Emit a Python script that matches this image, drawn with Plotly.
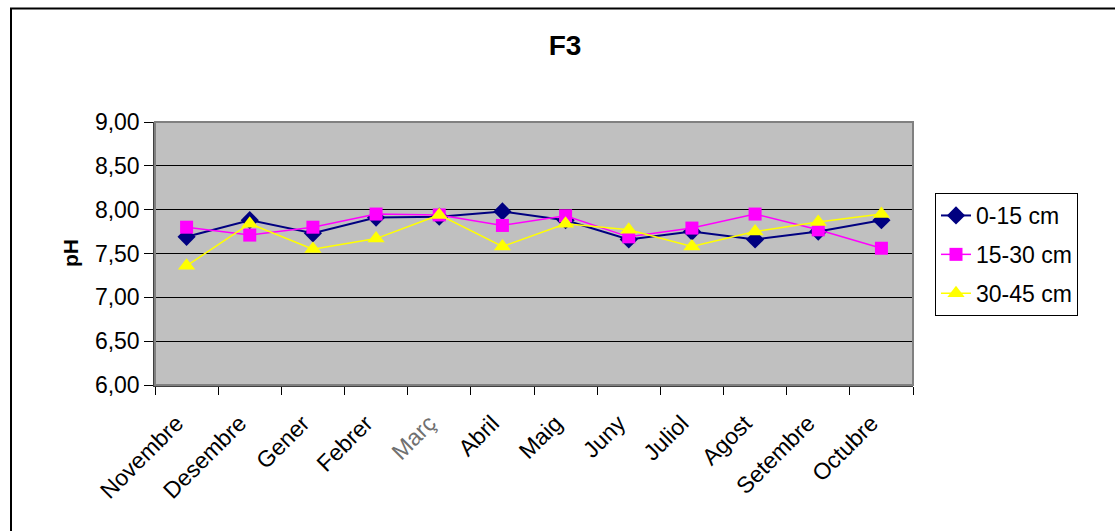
import plotly.graph_objects as go

months = ["Novembre", "Desembre", "Gener", "Febrer", "Març", "Abril",
          "Maig", "Juny", "Juliol", "Agost", "Setembre", "Octubre"]

ph_0_15 = [7.69, 7.88, 7.73, 7.91, 7.92, 7.98, 7.88, 7.66, 7.75, 7.66, 7.75, 7.88]
ph_15_30 = [7.80, 7.71, 7.80, 7.95, 7.94, 7.82, 7.93, 7.69, 7.79, 7.95, 7.77, 7.56]
ph_30_45 = [7.36, 7.84, 7.55, 7.67, 7.94, 7.58, 7.84, 7.77, 7.58, 7.75, 7.86, 7.95]

tick_text = [m if m != "Març" else "<span style='color:#707070'>Març</span>" for m in months]

font = "Arial, Liberation Sans, sans-serif"

fig = go.Figure()

fig.add_trace(go.Scatter(x=months, y=ph_0_15, mode="lines+markers", name="0-15 cm",
                         legendgroup="a",
                         line=dict(color="#000080", width=2),
                         marker=dict(symbol="diamond", size=14, color="#000080")))
fig.add_trace(go.Scatter(x=months, y=ph_15_30, mode="lines+markers", name="15-30 cm",
                         legendgroup="b",
                         line=dict(color="#FF00FF", width=1.5),
                         marker=dict(symbol="square", size=13, color="#FF00FF")))
fig.add_trace(go.Scatter(x=months, y=ph_30_45, mode="lines+markers", name="30-45 cm",
                         legendgroup="c",
                         line=dict(color="#FFFF00", width=1.5),
                         marker=dict(symbol="triangle-up", size=15, color="#FFFF00")))

fig.update_layout(
    width=1115, height=531,
    margin=dict(l=155, r=202, t=122, b=146),
    paper_bgcolor="white",
    plot_bgcolor="#C0C0C0",
    separators=",.",
    font=dict(family=font, size=23, color="black"),
    title=dict(text="<b>F3</b>", x=0.541, xref="paper", xanchor="center",
               y=1 - 45 / 531, yref="container", yanchor="middle",
               font=dict(size=28, family=font)),
    xaxis=dict(
        type="category", range=[-0.5, 11.5],
        tickvals=months, ticktext=tick_text, tickangle=-45,
        tickson="boundaries", ticks="outside", ticklen=8, tickcolor="black",
        ticklabelstandoff=14, ticklabelshift=-10,
        showline=True, linecolor="#404040", linewidth=1.5,
        showgrid=False, zeroline=False,
        tickfont=dict(size=23),
    ),
    yaxis=dict(
        range=[6, 9], dtick=0.5, tickformat=".2f",
        ticks="outside", ticklen=9, tickcolor="black",
        showline=True, linecolor="#404040", linewidth=1.5,
        showgrid=True, gridcolor="black", gridwidth=1,
        zeroline=False, tickfont=dict(size=23),
    ),
    legend=dict(
        x=(935 - 155) / 758, xanchor="left",
        y=(385 - 193) / 263, yanchor="top",
        bgcolor="white", bordercolor="black", borderwidth=1,
        font=dict(size=23), tracegroupgap=6, traceorder="grouped",
    ),
    showlegend=True,
)

# grey plot-area frame (top and right)
fig.add_shape(type="rect", xref="x domain", yref="y domain", x0=0, x1=1, y0=0, y1=1,
              line=dict(color="#808080", width=2), layer="above")
# outer chart border
fig.add_shape(type="rect", xref="paper", yref="paper",
              x0=(11 - 155) / 758, x1=1.5, y0=-1, y1=(385 - 8.5) / 263,
              line=dict(color="black", width=2))

fig.add_annotation(text="<b>pH</b>", xref="paper", yref="paper",
                   x=(57 - 155) / 758, y=0.5, textangle=-90, showarrow=False,
                   font=dict(size=21, family=font))

fig.write_html("out.html", config={"displayModeBar": False},
               post_script="document.body.style.margin='0';")
